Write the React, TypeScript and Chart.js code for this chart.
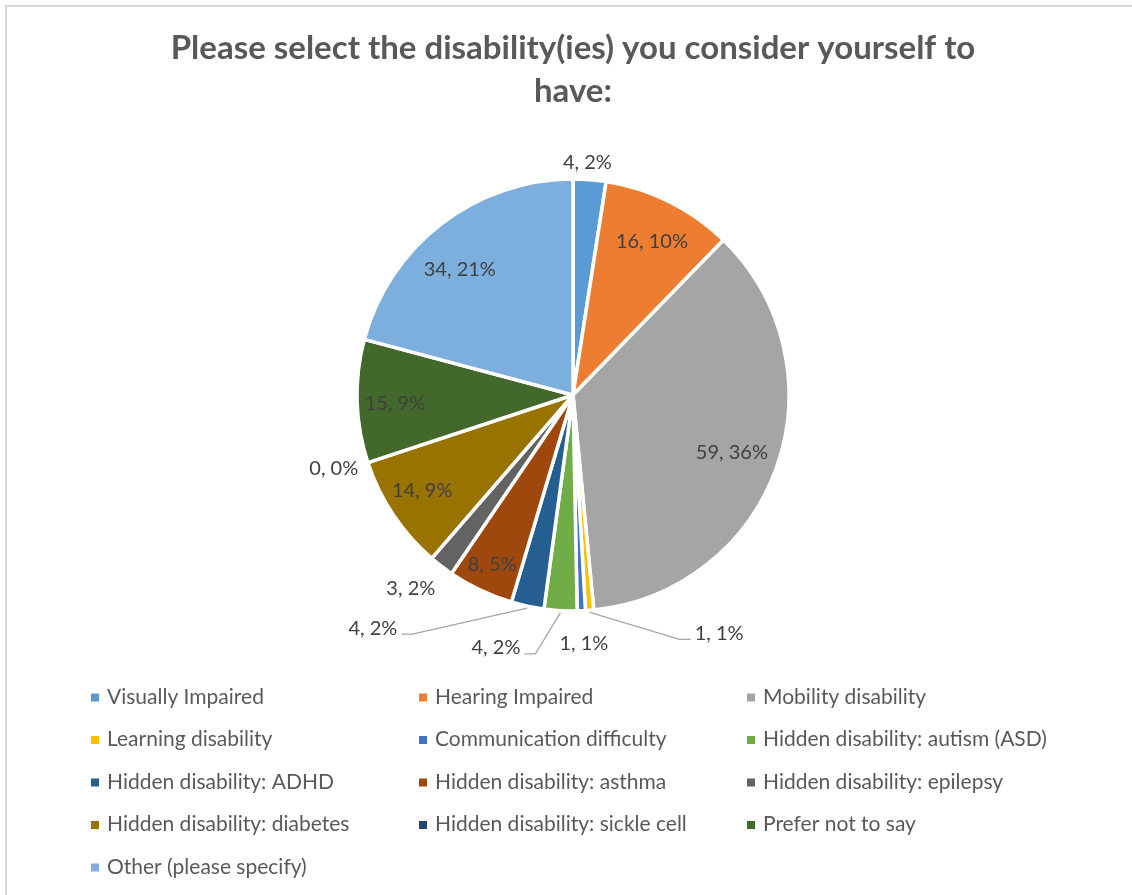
import React, { useEffect, useRef } from 'react';
import { Chart, registerables } from 'chart.js';

Chart.register(...registerables);

const titleLines = ['Please select the disability(ies) you consider yourself to', 'have:'];

const categories = [
  'Visually Impaired',
  'Hearing Impaired',
  'Mobility disability',
  'Learning disability',
  'Communication difficulty',
  'Hidden disability: autism (ASD)',
  'Hidden disability: ADHD',
  'Hidden disability: asthma',
  'Hidden disability: epilepsy',
  'Hidden disability: diabetes',
  'Hidden disability: sickle cell',
  'Prefer not to say',
  'Other (please specify)',
];

const counts = [4, 16, 59, 1, 1, 4, 4, 8, 3, 14, 0, 15, 34];

const colors = [
  '#5B9BD5',
  '#ED7D31',
  '#A5A5A5',
  '#FFC000',
  '#4472C4',
  '#70AD47',
  '#255E91',
  '#9E480E',
  '#636363',
  '#997300',
  '#264478',
  '#43682B',
  '#7CAFDD',
];

// label placement rules (style): kind, radius factor, angular shift in degrees
const labelPlacement = [
  { kind: 'out', rf: 1.083, da: -0.9 },
  { kind: 'in', rf: 0.805, da: 0.5 },
  { kind: 'in', rf: 0.78, da: 0.1 },
  { kind: 'leader', rf: 1.29, da: -27.2 },
  { kind: 'out', rf: 1.147, da: -0.3 },
  { kind: 'leader', rf: 1.219, da: 13.7 },
  { kind: 'leader', rf: 1.419, da: 28.6 },
  { kind: 'in', rf: 0.867, da: 0.2 },
  { kind: 'out', rf: 1.167, da: 2.5 },
  { kind: 'in', rf: 0.825, da: 1.5 },
  { kind: 'out', rf: 1.157, da: 1.4 },
  { kind: 'in', rf: 0.825, da: -0.9 },
  { kind: 'in', rf: 0.787, da: -4.2 },
];

const FONT = 'Lato, "Open Sans", sans-serif';

const labelPlugin = {
  id: 'sliceLabels',
  afterDatasetsDraw(chart: any) {
    const ctx = chart.ctx;
    const meta = chart.getDatasetMeta(0);
    const total = counts.reduce((a, b) => a + b, 0);
    ctx.save();
    ctx.font = `20px ${FONT}`;
    ctx.textAlign = 'center';
    ctx.textBaseline = 'alphabetic';
    meta.data.forEach((arc: any, i: number) => {
      const { x, y, startAngle, endAngle, outerRadius } = arc.getProps(
        ['x', 'y', 'startAngle', 'endAngle', 'outerRadius'],
        true
      );
      const mid = (startAngle + endAngle) / 2;
      const p = labelPlacement[i];
      const a = mid + (p.da * Math.PI) / 180;
      const lx = x + outerRadius * p.rf * Math.cos(a);
      const ly = y + outerRadius * p.rf * Math.sin(a);
      const text = `${counts[i]}, ${Math.round((counts[i] / total) * 100)}%`;
      const w = ctx.measureText(text).width;
      if (p.kind === 'leader') {
        const sx = x + (outerRadius + 2) * Math.cos(mid);
        const sy = y + (outerRadius + 2) * Math.sin(mid);
        const onRight = lx > sx;
        const edge = onRight ? lx - w / 2 : lx + w / 2;
        const dir = onRight ? -1 : 1;
        const yl = ly + 7;
        ctx.beginPath();
        ctx.moveTo(sx, sy);
        ctx.lineTo(edge + dir * 15, yl);
        ctx.lineTo(edge + dir * 4, yl);
        ctx.strokeStyle = '#A6A6A6';
        ctx.lineWidth = 1.3;
        ctx.stroke();
      }
      ctx.fillStyle = '#404040';
      ctx.fillText(text, lx, ly + 7.5);
    });
    ctx.restore();
  },
};

const decorPlugin = {
  id: 'decor',
  beforeDraw(chart: any) {
    const ctx = chart.ctx;
    ctx.save();
    ctx.fillStyle = '#FFFFFF';
    ctx.fillRect(0, 0, chart.width, chart.height);
    ctx.strokeStyle = '#D9D9D9';
    ctx.lineWidth = 2;
    ctx.strokeRect(6, 6, chart.width + 20, chart.height + 20);
    ctx.restore();
  },
  afterDraw(chart: any) {
    const ctx = chart.ctx;
    ctx.save();
    // title
    ctx.fillStyle = '#595959';
    ctx.textAlign = 'center';
    ctx.textBaseline = 'alphabetic';
    ctx.font = `bold 33px ${FONT}`;
    titleLines.forEach((line, i) => {
      ctx.fillText(line, 573, 59 + i * 43);
    });
    // legend (3 columns)
    ctx.font = `21px ${FONT}`;
    ctx.textAlign = 'left';
    categories.forEach((name, i) => {
      const col = i % 3;
      const row = Math.floor(i / 3);
      const mx = 91 + col * 328;
      const cy = 697.5 + row * 42.5;
      ctx.fillStyle = colors[i];
      ctx.fillRect(mx, cy - 4, 8, 8);
      ctx.fillStyle = '#595959';
      ctx.fillText(name, mx + 16, cy + 6);
    });
    ctx.restore();
  },
};

export default function App() {
  const canvasRef = useRef<HTMLCanvasElement | null>(null);

  useEffect(() => {
    const canvas = canvasRef.current;
    if (!canvas) return;
    const chart = new Chart(canvas, {
      type: 'pie',
      data: {
        labels: categories,
        datasets: [
          {
            data: counts,
            backgroundColor: colors,
            borderColor: '#FFFFFF',
            borderWidth: 3.5,
            radius: 216,
          } as any,
        ],
      },
      options: {
        responsive: false,
        animation: false,
        devicePixelRatio: 1,
        layout: { padding: { left: 300, right: 286, top: 170, bottom: 275 } },
        plugins: {
          legend: { display: false },
          title: { display: false },
          tooltip: { enabled: false },
        },
      },
      plugins: [decorPlugin, labelPlugin],
    });
    return () => chart.destroy();
  }, []);

  return (
    <div style={{ position: 'absolute', left: 0, top: 0, width: 1132, height: 895 }}>
      <canvas ref={canvasRef} width={1132} height={895} style={{ display: 'block' }} />
    </div>
  );
}
